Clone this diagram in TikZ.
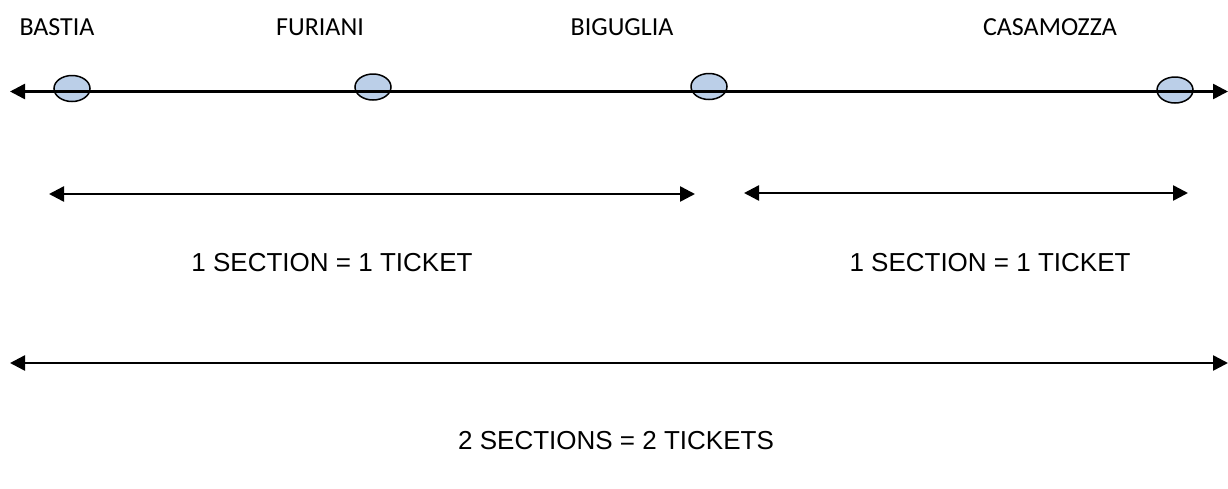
\documentclass[tikz,border=0pt]{standalone}
\usepackage{fontspec}
\setmainfont{Liberation Sans}
\newfontfamily\stationfont{Carlito}
\usetikzlibrary{arrows.meta,shapes.geometric}
\definecolor{haltblue}{RGB}{187,207,232}

\begin{document}
\begin{tikzpicture}
  [x=1pt, y=-1pt,
  halt/.style={ellipse, draw=black, fill=haltblue, line width=1.5pt,
    inner sep=0pt, minimum width=36pt, minimum height=26pt},
  town/.style={anchor=base, font=\stationfont\fontsize{26}{30}\selectfont},
  fare/.style={anchor=base, font=\fontsize{26}{30}\selectfont},
  track/.style={line width=2.5pt,
    {Triangle[length=15pt,width=15pt]}-{Triangle[length=15pt,width=15pt]}}]

  \useasboundingbox (0,0) rectangle (1228,488);

  % stations
  \node[town] (bastia-name)    at (57,35)   {BASTIA};
  \node[town] (furiani-name)   at (320,35)  {FURIANI};
  \node[town] (biguglia-name)  at (622,35)  {BIGUGLIA};
  \node[town] (casamozza-name) at (1050,35) {CASAMOZZA};

  \node[halt] (bastia)    at (72,88.5)  {};
  \node[halt] (furiani)   at (373,87)   {};
  \node[halt] (biguglia)  at (709,86.5) {};
  \node[halt] (casamozza) at (1175,90)  {};

  \coordinate (line-west) at (10,91.5);
  \coordinate (line-east) at (1228,91.5);
  \draw[track] (line-west) -- (line-east);

  % sections
  \coordinate (first-west)  at (49,194);
  \coordinate (first-east)  at (695,194);
  \coordinate (second-west) at (744,193);
  \coordinate (second-east) at (1188,193);
  \draw[track] (first-west) -- (first-east);
  \draw[track] (second-west) -- (second-east);

  \node[fare] (first-fare)  at (332,271) {1 SECTION = 1 TICKET};
  \node[fare] (second-fare) at (990,271) {1 SECTION = 1 TICKET};

  \coordinate (whole-west) at (10,363);
  \coordinate (whole-east) at (1228,363);
  \draw[track] (whole-west) -- (whole-east);

  \node[fare] (whole-fare) at (616,449) {2 SECTIONS = 2 TICKETS};

\end{tikzpicture}
\end{document}
